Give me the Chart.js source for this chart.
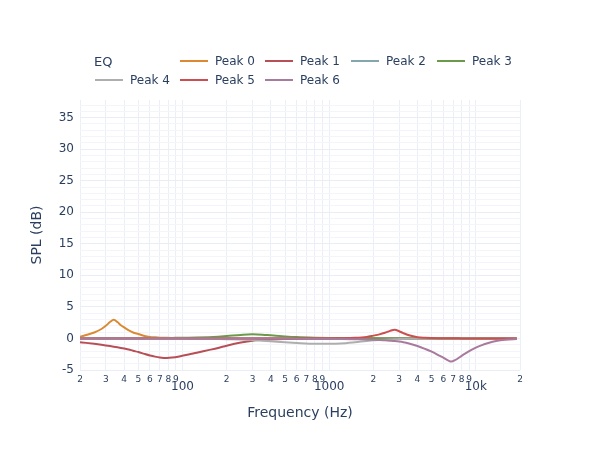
<!DOCTYPE html>
<html><head><meta charset="utf-8">
<script src="https://cdn.jsdelivr.net/npm/chart.js@4.4.1/dist/chart.umd.min.js"></script>
<style>
html,body{margin:0;padding:0;background:#fff;}
#wrap{position:relative;width:600px;height:450px;}
#legend{position:absolute;left:0;top:0;width:600px;height:100px;font-family:"DejaVu Sans",sans-serif;font-size:12px;color:#2a3f5f;}
.lg-line{position:absolute;width:28px;height:2px;}
.lg-text{position:absolute;line-height:14px;white-space:nowrap;}
</style></head><body>
<div id="wrap"><canvas id="c" width="600" height="450"></canvas><div id="legend"></div></div>
<script>
const freq = [20, 22, 25, 28, 30, 32, 34, 36, 38, 40, 43, 46, 50, 55, 60, 65, 70, 78, 85, 95,
  110, 125, 150, 175, 200, 250, 300, 350, 400, 500, 600, 800, 1000, 1200, 1500, 1800, 2000, 2200, 2400, 2600,
  2800, 3000, 3200, 3500, 4000, 4500, 5000, 5500, 6000, 6500, 6800, 7200, 8000, 9000, 10000, 11000, 12000, 14000, 16000, 19000];

const peak0 = [0.25, 0.55, 0.95, 1.5, 2.0, 2.6, 2.95, 2.6, 2.1, 1.75, 1.3, 0.95, 0.7, 0.4, 0.25, 0.18, 0.13, 0.1, 0.08, 0.06,
  0.05, 0.04, 0.03, 0.02, 0.02, 0.01, 0.01, 0.01, 0.01, 0.01, 0, 0, 0, 0, 0, 0, 0, 0, 0, 0,
  0, 0, 0, 0, 0, 0, 0, 0, 0, 0, 0, 0, 0, 0, 0, 0, 0, 0, 0, 0];
const peak1 = [-0.6, -0.7, -0.85, -1.0, -1.1, -1.2, -1.3, -1.4, -1.5, -1.6, -1.75, -1.95, -2.15, -2.45, -2.7, -2.88, -3.0, -3.08, -3.02, -2.85,
  -2.55, -2.25, -1.85, -1.5, -1.15, -0.65, -0.35, -0.24, -0.17, -0.1, -0.07, -0.04, -0.03, -0.02, -0.01, 0, 0, 0, 0, 0,
  0, 0, 0, 0, 0, 0, 0, 0, 0, 0, 0, 0, 0, 0, 0, 0, 0, 0, 0, 0];
const peak2 = [0, 0, 0, 0, 0, 0, 0, 0, 0, 0, 0, 0, 0, 0, 0, 0, 0, 0, 0, 0,
  0, 0, 0, 0, 0, 0, 0, 0, 0, 0, 0, 0, 0, 0, 0, 0, 0, 0, 0, 0,
  0, 0, 0, 0, 0, 0, 0, 0, 0, 0, 0, 0, 0, 0, 0, 0, 0, 0, 0, 0];
const peak3 = [0.02, 0.02, 0.02, 0.03, 0.03, 0.03, 0.03, 0.03, 0.04, 0.04, 0.04, 0.04, 0.05, 0.05, 0.06, 0.06, 0.07, 0.08, 0.09, 0.1,
  0.12, 0.15, 0.21, 0.29, 0.38, 0.56, 0.65, 0.6, 0.5, 0.33, 0.22, 0.12, 0.07, 0.05, 0.03, 0.02, 0.02, 0.01, 0.01, 0.01,
  0.01, 0.01, 0, 0, 0, 0, 0, 0, 0, 0, 0, 0, 0, 0, 0, 0, 0, 0, 0, 0];
const peak4 = [0, 0, 0, 0, 0, 0, 0, 0, 0, 0, 0, 0, -0.01, -0.01, -0.01, -0.01, -0.01, -0.02, -0.02, -0.02,
  -0.03, -0.04, -0.06, -0.08, -0.11, -0.17, -0.25, -0.35, -0.44, -0.6, -0.71, -0.84, -0.85, -0.8, -0.6, -0.4, -0.3, -0.24, -0.19, -0.15,
  -0.12, -0.1, -0.08, -0.06, -0.04, -0.03, -0.02, -0.01, -0.01, -0.01, -0.01, -0.01, -0.01, 0, 0, 0, 0, 0, 0, 0];
const peak5 = [0, 0, 0, 0, 0, 0, 0, 0, 0, 0, 0, 0, 0, 0, 0, 0, 0, 0, 0, 0,
  0, 0, 0, 0, 0, 0, 0, 0, 0, 0.01, 0.01, 0.02, 0.02, 0.04, 0.1, 0.25, 0.45, 0.65, 0.9, 1.2,
  1.38, 1.15, 0.85, 0.5, 0.2, 0.1, 0.06, 0.04, 0.03, 0.02, 0.02, 0.02, 0.01, 0.01, 0.01, 0, 0, 0, 0, 0];
const peak6 = [0, 0, 0, 0, 0, 0, 0, 0, 0, 0, 0, 0, 0, 0, 0, 0, 0, 0, 0, 0,
  0, 0, 0, 0, 0, 0, 0, 0, -0.01, -0.02, -0.03, -0.04, -0.06, -0.08, -0.12, -0.16, -0.2, -0.24, -0.3, -0.36,
  -0.42, -0.5, -0.6, -0.8, -1.2, -1.65, -2.1, -2.6, -3.05, -3.5, -3.66, -3.45, -2.75, -2.0, -1.45, -1.05, -0.75, -0.37, -0.2, -0.07];

const seriesNames = ['Peak 0', 'Peak 1', 'Peak 2', 'Peak 3', 'Peak 4', 'Peak 5', 'Peak 6'];
const seriesValues = [peak0, peak1, peak2, peak3, peak4, peak5, peak6];
const seriesColors = ['#DA8A33', '#B84F56', '#84A7AE', '#6A9A4A', '#AEAEAE', '#CC4E4E', '#A97A9E'];

const legendTitle = 'EQ';
const xTitle = 'Frequency (Hz)';
const yTitle = 'SPL (dB)';
const xTickValues = [20, 30, 40, 50, 60, 70, 80, 90, 100, 200, 300, 400, 500, 600, 700, 800, 900, 1000,
  2000, 3000, 4000, 5000, 6000, 7000, 8000, 9000, 10000, 20000];
const xTickLabels = ['2', '3', '4', '5', '6', '7', '8', '9', '100', '2', '3', '4', '5', '6', '7', '8', '9', '1000',
  '2', '3', '4', '5', '6', '7', '8', '9', '10k', '2'];
const xMajorTicks = [100, 1000, 10000];
const yMin = -5, yMax = 37.8;
const yLabelStep = 5;

const FONT = '"DejaVu Sans", sans-serif';
const TXT = '#2a3f5f';

// legend (HTML)
const lg = document.getElementById('legend');
const t = document.createElement('div');
t.className = 'lg-text'; t.textContent = legendTitle;
t.style.left = '94px'; t.style.top = (62 - 7) + 'px'; t.style.fontSize = '13px';
lg.appendChild(t);
const slots = [[180, 61], [265, 61], [351, 61], [437, 61], [95, 80], [180, 80], [265, 80]];
seriesNames.forEach((name, i) => {
  const [x, y] = slots[i];
  const ln = document.createElement('div');
  ln.className = 'lg-line'; ln.style.left = x + 'px'; ln.style.top = (y - 1) + 'px';
  ln.style.background = seriesColors[i];
  lg.appendChild(ln);
  const tx = document.createElement('div');
  tx.className = 'lg-text'; tx.textContent = name;
  tx.style.left = (x + 35) + 'px'; tx.style.top = (y - 7) + 'px';
  lg.appendChild(tx);
});

const datasets = seriesNames.map((name, i) => ({
  label: name,
  data: freq.map((f, k) => ({x: f, y: seriesValues[i][k]})),
  borderColor: seriesColors[i],
  backgroundColor: seriesColors[i],
  borderWidth: 2,
  pointRadius: 0,
  cubicInterpolationMode: 'monotone',
  fill: false,
  order: seriesNames.length - 1 - i
}));

new Chart(document.getElementById('c'), {
  type: 'line',
  data: {datasets},
  options: {
    responsive: false,
    animation: false,
    layout: {padding: {top: 100, left: 0, right: 80, bottom: 0}},
    plugins: {legend: {display: false}, tooltip: {enabled: false}},
    scales: {
      x: {
        type: 'logarithmic',
        min: 20, max: 20000,
        afterBuildTicks: (s) => { s.ticks = xTickValues.map(v => ({value: v})); },
        afterFit: (s) => { s.height = 80; },
        border: {display: false},
        grid: {color: '#ebf0f8', lineWidth: 1, drawTicks: false},
        ticks: {
          autoSkip: false, maxRotation: 0, minRotation: 0, padding: 4, color: TXT,
          callback: (v, i) => xTickLabels[i],
          font: (ctx) => (ctx.tick && xMajorTicks.includes(ctx.tick.value))
            ? {family: FONT, size: 12, lineHeight: 2.1}
            : {family: FONT, size: 9, lineHeight: 1.2}
        },
        title: {display: true, text: xTitle, color: TXT, font: {family: FONT, size: 14}, padding: {top: 0, bottom: 28.6}}
      },
      y: {
        type: 'linear',
        min: yMin, max: yMax,
        afterFit: (s) => { s.width = 80; },
        border: {display: false},
        grid: {
          drawTicks: false, lineWidth: 1,
          color: (ctx) => (ctx.tick && ctx.tick.value % yLabelStep === 0) ? '#e9eef6' : '#f3f5fa'
        },
        ticks: {
          stepSize: 1, includeBounds: false, autoSkip: false, padding: 6, color: TXT,
          font: {family: FONT, size: 12},
          callback: (v) => (v % yLabelStep === 0 ? String(v) : '')
        },
        title: {display: true, text: yTitle, color: TXT, font: {family: FONT, size: 14}, padding: {top: 28.6, bottom: 0}}
      }
    }
  }
});
</script>
</body></html>
